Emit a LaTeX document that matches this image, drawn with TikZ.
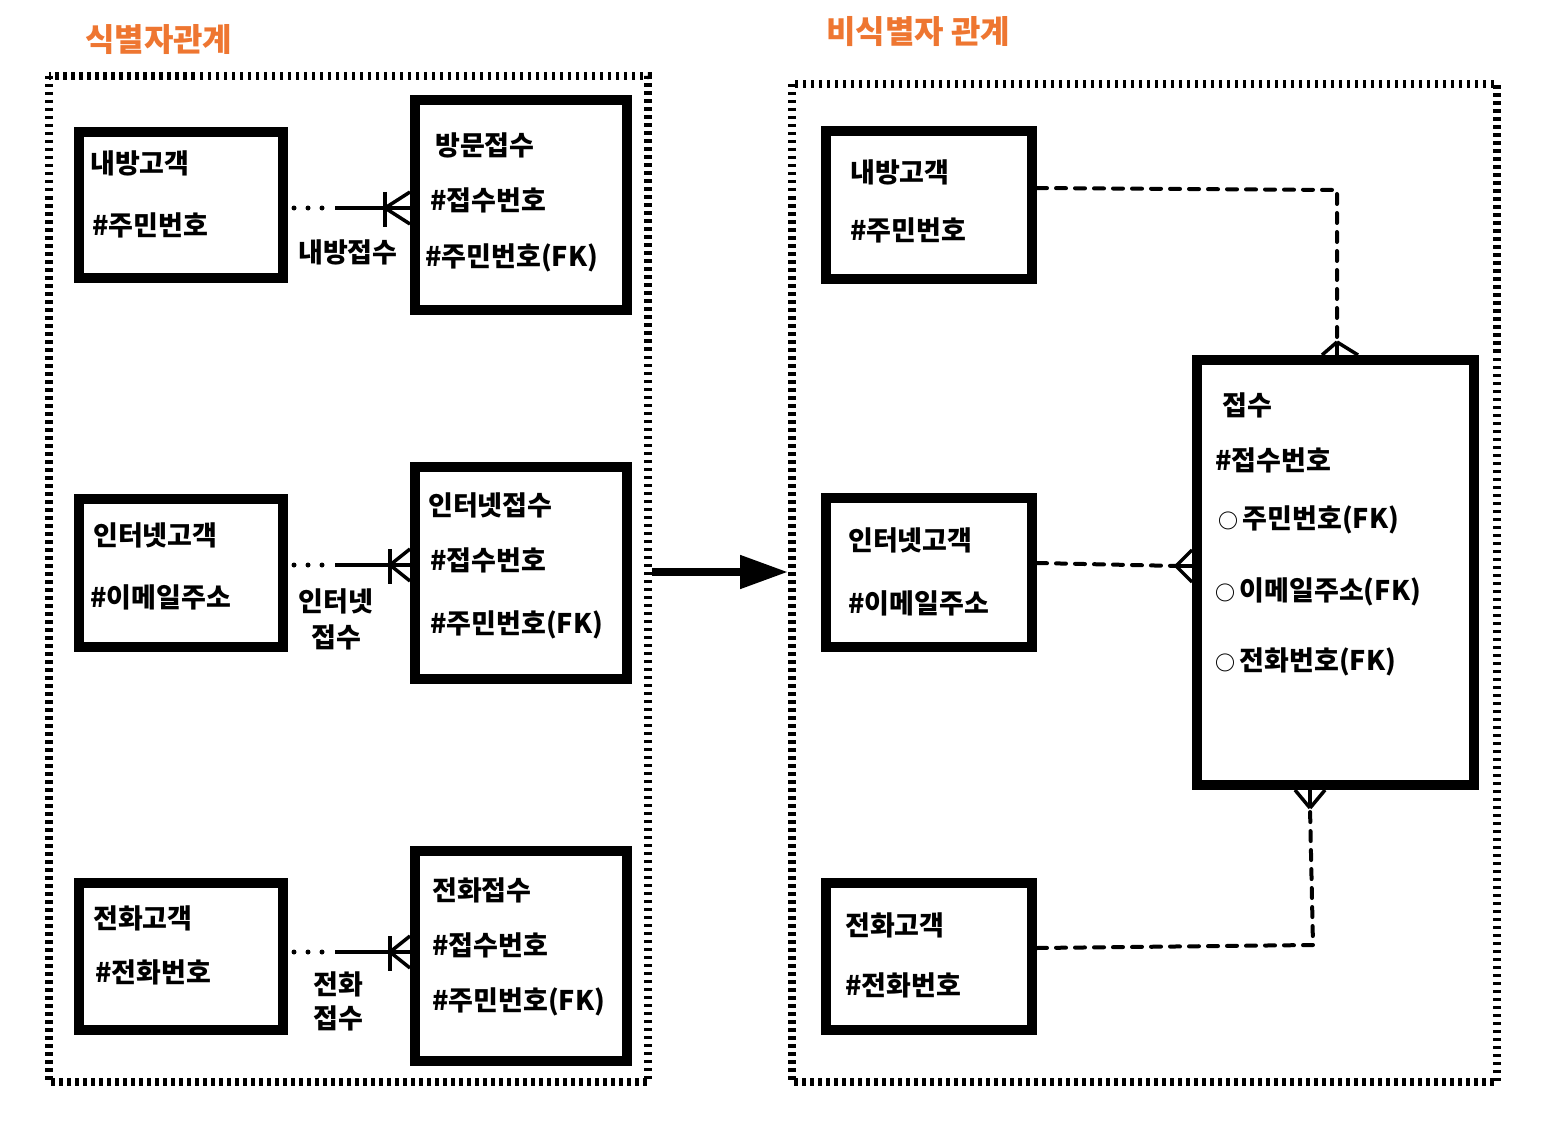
\documentclass[tikz,border=0pt]{standalone}
\usepackage{fontspec}
\setmainfont{Noto Sans CJK KR}
\usetikzlibrary{arrows.meta}
\definecolor{titleor}{HTML}{EE7631}
\tikzset{
  frameline/.style={line width=8pt, dash pattern=on 3.5pt off 4.5pt},
  ebox/.style={draw, line width=10pt, rectangle, inner sep=0pt},
  txt/.style={anchor=west, inner sep=0pt, font=\fontsize{27}{30}\selectfont\bfseries},
  ttl/.style={anchor=west, inner sep=0pt, text=titleor, font=\fontsize{32}{36}\selectfont\bfseries},
  rel/.style={line width=3.5pt},
  dotline/.style={line width=5pt, line cap=round, dash pattern=on 0pt off 14pt},
  dashline/.style={line width=4pt, line cap=round, dash pattern=on 10pt off 9pt},
}
\begin{document}
\begin{tikzpicture}[x=1pt,y=-1pt]
\useasboundingbox (0,0) rectangle (1559,1121);
% titles
\node[ttl] (t1) at (85,40) {식별자관계};
\node[ttl] (t2) at (826,32) {비식별자 관계};
% frames
\draw[frameline] (49,76) rectangle (648,1082);
\draw[frameline] (792,84) rectangle (1497,1082);
% left boxes
\node[ebox, minimum width=204, minimum height=146] (a1) at (181,205) {};
\node[ebox, minimum width=212, minimum height=210] (b1) at (521,205) {};
\node[ebox, minimum width=204, minimum height=148] (a2) at (181,573) {};
\node[ebox, minimum width=212, minimum height=212] (b2) at (521,573) {};
\node[ebox, minimum width=204, minimum height=147] (a3) at (181,956) {};
\node[ebox, minimum width=212, minimum height=210] (b3) at (521,956) {};
% right boxes
\node[ebox, minimum width=206, minimum height=148] (c1) at (929,205) {};
\node[ebox, minimum width=206, minimum height=149] (c2) at (929,572) {};
\node[ebox, minimum width=206, minimum height=147] (c3) at (929,956) {};
\node[ebox, minimum width=277, minimum height=425] (d) at (1335.5,572.5) {};
% texts left
\node[txt] (a1n) at (90,163) {내방고객};
\node[txt] (a1k) at (92,225) {\#주민번호};
\node[txt] (b1n) at (435,145) {방문접수};
\node[txt] (b1k) at (430,200) {\#접수번호};
\node[txt] (b1f) at (425,258) {\#주민번호(FK)};
\node[txt] (a2n) at (93,535) {인터넷고객};
\node[txt] (a2k) at (90,597) {\#이메일주소};
\node[txt] (b2n) at (428,505) {인터넷접수};
\node[txt] (b2k) at (430,560) {\#접수번호};
\node[txt] (b2f) at (430,625) {\#주민번호(FK)};
\node[txt] (a3n) at (93,918) {전화고객};
\node[txt] (a3k) at (95,972) {\#전화번호};
\node[txt] (b3n) at (432,890) {전화접수};
\node[txt] (b3k) at (432,945) {\#접수번호};
\node[txt] (b3f) at (432,1002) {\#주민번호(FK)};
% relation labels
\node[txt] (l1) at (298,252) {내방접수};
\node[txt, align=center, anchor=north, font=\fontsize{27}{36}\selectfont\bfseries] (l2) at (336,588) {인터넷\\접수};
\node[txt, align=center, anchor=north, font=\fontsize{27}{34}\selectfont\bfseries] (l3) at (338,972) {전화\\접수};
% texts right
\node[txt] (c1n) at (850,172) {내방고객};
\node[txt] (c1k) at (850,230) {\#주민번호};
\node[txt] (c2n) at (848,540) {인터넷고객};
\node[txt] (c2k) at (848,603) {\#이메일주소};
\node[txt] (c3n) at (845,925) {전화고객};
\node[txt] (c3k) at (845,985) {\#전화번호};
\node[txt] (dn) at (1222,405) {접수};
\node[txt] (dk) at (1215,460) {\#접수번호};
\node[txt] (df1) at (1218,520) {{\fontsize{20}{20}\selectfont ○}\,주민번호(FK)};
\node[txt] (df2) at (1215,592) {{\fontsize{20}{20}\selectfont ○}\,이메일주소(FK)};
\node[txt] (df3) at (1215,662) {{\fontsize{20}{20}\selectfont ○}\,전화번호(FK)};
% identifying relationships (left)
\foreach \a/\b/\y/\bx in {a1/b1/208/385, a2/b2/565/390, a3/b3/952/390}{
  \coordinate (m\a) at (335,\y);
  \draw[dotline] (\a.east |- 0,\y) ++(6,0) -- (m\a);
  \draw[rel] (m\a) -- (\b.west |- 0,\y);
  \draw[rel] (\bx,\y-16) -- (\bx,\y+19);
  \draw[rel] (\bx,\y) -- (\b.west |- 0,\y-16);
  \draw[rel] (\bx,\y) -- (\b.west |- 0,\y+16);
}
% big arrow
\coordinate (arS) at (652,572);
\coordinate (arE) at (788,572);
\draw[line width=8pt, -{Triangle[length=48pt,width=32pt]}] (arS) -- (arE);
% non-identifying relationships (right)
\coordinate (k1) at (1337,190);
\draw[dashline] (c1.east |- 0,188) -- (k1) -- (1337,342);
\draw[rel] (1337,342) -- (1322,355);
\draw[rel] (1337,342) -- (1358,355);
\draw[rel] (1337,342) -- (1337,355);
\draw[dashline] (c2.east |- 0,563) -- (1178,566);
\draw[rel] (1176,566) -- (d.west |- 0,550);
\draw[rel] (1176,566) -- (d.west |- 0,582);
\draw[rel] (1176,566) -- (d.west |- 0,566);
\coordinate (k3) at (1313,945);
\draw[dashline] (c3.east |- 0,948) -- (k3) -- (1310,808);
\draw[rel] (1310,808) -- (1295,790);
\draw[rel] (1310,808) -- (1325,790);
\draw[rel] (1310,808) -- (1310,790);
\end{tikzpicture}
\end{document}
